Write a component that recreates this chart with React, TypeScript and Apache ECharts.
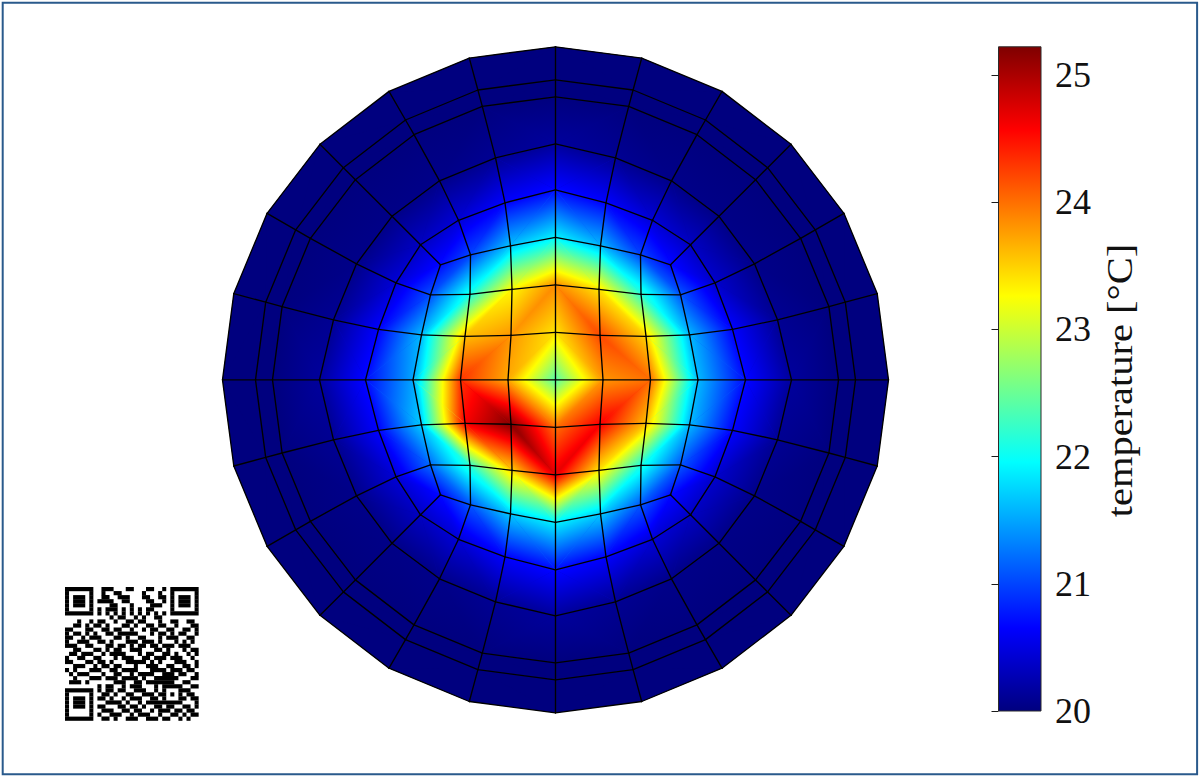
import React, { useEffect, useRef } from "react";
import * as echarts from "echarts";

// ---- mesh geometry (one octant of each ring, in plot units; R = 333) ----
const INNER_OCTANT: number[][][] = [
  [[0, 0]],
  [[47.5, 0], [44.5, 44.5]],
  [[95, 0], [90.5, 43.5], [85.5, 85.5]],
  [[142.5, 0], [134, 45], [125, 85], [115, 115]],
];
const RING1_OCTANT = [[190, 0], [177, 50.5], [159.5, 97], [135, 135]];
const RING2_OCTANT = [[236, 0], [222, 60], [199, 116], [163.5, 163.5]];
const RING3_OCTANT = [[283, 0], [273.4, 73.2], [245.1, 141.5], [200.1, 200.1]];
const RING4_OCTANT = [[300, 0], [289.8, 77.6], [259.8, 150], [212.1, 212.1]];
const RING5_OCTANT = [[333, 0], [321.7, 86.2], [288.4, 166.5], [235.5, 235.5]];

// ---- node temperatures [°C] ----
// inner 7x7 block, rows top to bottom, columns left to right
const INNER_VALUES = [
  [20.7, 21.0, 21.65, 21.9, 21.6, 21.0, 20.7],
  [21.05, 22.1, 23.3, 23.85, 23.4, 22.2, 21.1],
  [21.6, 23.6, 23.8, 23.4, 24.2, 23.5, 21.6],
  [21.5, 24.3, 23.7, 22.4, 23.8, 24.0, 21.6],
  [21.7, 24.6, 25.2, 24.0, 24.6, 23.6, 21.6],
  [21.2, 22.2, 23.5, 24.7, 23.4, 22.1, 21.1],
  [20.7, 21.1, 21.7, 21.9, 21.7, 21.1, 20.7],
];
// rings, 24 nodes each, counter-clockwise from the +x axis
const RING1_VALUES = [20.7, 20.65, 20.4, 20.35, 20.45, 20.65, 20.7, 20.65, 20.45, 20.35, 20.45, 20.65, 20.7, 20.65, 20.45, 20.35, 20.45, 20.65, 20.7, 20.65, 20.45, 20.35, 20.4, 20.65];
const RING2_VALUES = [20.15, 20.1, 20.05, 20.04, 20.05, 20.1, 20.15, 20.1, 20.05, 20.04, 20.05, 20.1, 20.15, 20.1, 20.05, 20.04, 20.05, 20.1, 20.15, 20.1, 20.05, 20.04, 20.05, 20.1];
const RING3_VALUES = [20, 20, 20, 20, 20, 20, 20, 20, 20, 20, 20, 20, 20, 20, 20, 20, 20, 20, 20, 20, 20, 20, 20, 20];
const RING4_VALUES = [20, 20, 20, 20, 20, 20, 20, 20, 20, 20, 20, 20, 20, 20, 20, 20, 20, 20, 20, 20, 20, 20, 20, 20];
const RING5_VALUES = [20, 20, 20, 20, 20, 20, 20, 20, 20, 20, 20, 20, 20, 20, 20, 20, 20, 20, 20, 20, 20, 20, 20, 20];

// ---- colour scale ----
const T_MIN = 20;
const T_MAX = 25.22;
const TICK_VALUES = [20, 21, 22, 23, 24, 25];
const JET_OFFSETS = [0, 0.125, 0.375, 0.625, 0.875, 1];
const JET_COLORS = ["#00007f", "#0000ff", "#00ffff", "#ffff00", "#ff0000", "#7f0000"];
const COLOR_STOPS = JET_OFFSETS.map((offset, i) => ({ offset, color: JET_COLORS[i] }));

const AXIS_TITLE = "temperature [°C]";

const QR_ROWS = [
  "1111111" + "0" + "01110001100011001" + "0" + "1111111",
  "1000001" + "0" + "01001100000100010" + "0" + "1000001",
  "1011101" + "0" + "01100111000110011" + "0" + "1011101",
  "1011101" + "0" + "11110011000011001" + "0" + "1011101",
  "1011101" + "0" + "00011000100001110" + "0" + "1011101",
  "1000001" + "0" + "10111010101011000" + "0" + "1000001",
  "1111111" + "0" + "10101010101010101" + "0" + "1111111",
  "00000000" + "00010110010100110" + "00000000",
  "000100101100100110110001001100110",
  "001101011010001101001101100100011",
  "110001100110110010010110011001101",
  "101101010011011111000101101011001",
  "110010111000110100110001011100110",
  "100111001101000111011101000101010",
  "111001100011011010110110111011100",
  "001100011010110011100011010001011",
  "011011100101111000101100110100101",
  "100110011000101110011011101110010",
  "110001101101000111110101000111001",
  "001110010110110001001110011001101",
  "101000111001101111000111101110110",
  "010111000100110010111100111011001",
  "001000111011101111010011111100011",
  "011101000000111001101111111001100",
  "00000000" + "1011001011100010" + "11111" + "0011",
  "1111111" + "0" + "1011011001110010" + "10001" + "1100",
  "1000001" + "0" + "0110100110011101" + "10101" + "0110",
  "1011101" + "0" + "1101001011100110" + "10001" + "1011",
  "1011101" + "0" + "0011110100101111" + "11111" + "0001",
  "1011101" + "0" + "1100011011010011" + "01100" + "1101",
  "1000001" + "0" + "0111001101100101" + "11011" + "0110",
  "1000001" + "0" + "1001110010111001" + "00110" + "1011",
  "1111111" + "0" + "0110100111001110" + "11001" + "0100",
];

type Node = { x: number; y: number; v: number };

// ---- mesh assembly ----
function innerNode(i: number, j: number): Node {
  const a = Math.abs(i);
  const b = Math.abs(j);
  const p = a >= b ? INNER_OCTANT[a][b] : [INNER_OCTANT[b][a][1], INNER_OCTANT[b][a][0]];
  return {
    x: Math.sign(i) * p[0],
    y: Math.sign(j) * p[1],
    v: INNER_VALUES[3 - j][i + 3],
  };
}
function ringPoint(octant: number[][], spoke: number): number[] {
  let a = spoke;
  let fy = 1;
  let fx = 1;
  if (a > 12) { a = 24 - a; fy = -1; }
  if (a > 6) { a = 12 - a; fx = -1; }
  const p = a > 3 ? [octant[6 - a][1], octant[6 - a][0]] : octant[a];
  return [fx * p[0], fy * p[1]];
}
function perimeterIndex(s: number): number[] {
  if (s <= 3) return [3, s];
  if (s <= 9) return [6 - s, 3];
  if (s <= 15) return [-3, 12 - s];
  if (s <= 21) return [s - 18, -3];
  return [3, s - 24];
}
const RINGS = [
  { octant: RING1_OCTANT, values: RING1_VALUES },
  { octant: RING2_OCTANT, values: RING2_VALUES },
  { octant: RING3_OCTANT, values: RING3_VALUES },
  { octant: RING4_OCTANT, values: RING4_VALUES },
  { octant: RING5_OCTANT, values: RING5_VALUES },
];
function ringNode(ring: number, spoke: number): Node {
  const s = ((spoke % 24) + 24) % 24;
  if (ring === 0) {
    const [i, j] = perimeterIndex(s);
    return innerNode(i, j);
  }
  const r = RINGS[ring - 1];
  const [x, y] = ringPoint(r.octant, s);
  return { x, y, v: r.values[s] };
}

const CELLS: Node[][] = [];
for (let i = -3; i < 3; i++) {
  for (let j = -3; j < 3; j++) {
    CELLS.push([innerNode(i, j), innerNode(i + 1, j), innerNode(i + 1, j + 1), innerNode(i, j + 1)]);
  }
}
for (let r = 0; r < 5; r++) {
  for (let s = 0; s < 24; s++) {
    CELLS.push([ringNode(r, s), ringNode(r, s + 1), ringNode(r + 1, s + 1), ringNode(r + 1, s)]);
  }
}
const EDGES: Node[][] = (() => {
  const seen = new Set<string>();
  const out: Node[][] = [];
  const key = (n: Node) => `${n.x.toFixed(2)},${n.y.toFixed(2)}`;
  CELLS.forEach((c) => {
    c.forEach((n, k) => {
      const m = c[(k + 1) % 4];
      const id = [key(n), key(m)].sort().join("|");
      if (!seen.has(id)) {
        seen.add(id);
        out.push([n, m]);
      }
    });
  });
  return out;
})();

function colorAt(v: number): string {
  const t = Math.max(0, Math.min(1, (v - T_MIN) / (T_MAX - T_MIN)));
  let k = 0;
  while (k < JET_OFFSETS.length - 2 && t > JET_OFFSETS[k + 1]) k++;
  const f = (t - JET_OFFSETS[k]) / (JET_OFFSETS[k + 1] - JET_OFFSETS[k]);
  const a = parseInt(JET_COLORS[k].slice(1), 16);
  const b = parseInt(JET_COLORS[k + 1].slice(1), 16);
  const ch = (sh: number) => Math.round(((a >> sh) & 255) * (1 - f) + ((b >> sh) & 255) * f);
  return `rgb(${ch(16)},${ch(8)},${ch(0)})`;
}

// a linear function on a triangle is exactly a linear gradient along its slope;
// the gradient spans only the triangle's own value range
function triangleFill(p: number[][], v: number[]) {
  const lo = Math.min(v[0], v[1], v[2]);
  const hi = Math.max(v[0], v[1], v[2]);
  const mean = (v[0] + v[1] + v[2]) / 3;
  if (hi - lo < 0.002) return colorAt(mean);
  const ax = p[1][0] - p[0][0];
  const ay = p[1][1] - p[0][1];
  const bx = p[2][0] - p[0][0];
  const by = p[2][1] - p[0][1];
  const det = ax * by - ay * bx;
  const du = v[1] - v[0];
  const dv = v[2] - v[0];
  if (Math.abs(det) < 1e-6) return colorAt(mean);
  const gx = (du * by - dv * ay) / det;
  const gy = (dv * ax - du * bx) / det;
  const g2 = gx * gx + gy * gy;
  const at = (t: number) => [p[0][0] + ((t - v[0]) * gx) / g2, p[0][1] + ((t - v[0]) * gy) / g2];
  const s = at(lo);
  const e = at(hi);
  const colorStops = [{ offset: 0, color: colorAt(lo) }];
  JET_OFFSETS.forEach((o, i) => {
    const tv = T_MIN + o * (T_MAX - T_MIN);
    if (tv > lo && tv < hi) colorStops.push({ offset: (tv - lo) / (hi - lo), color: JET_COLORS[i] });
  });
  colorStops.push({ offset: 1, color: colorAt(hi) });
  return { type: "linear", global: true, x: s[0], y: s[1], x2: e[0], y2: e[1], colorStops };
}

function renderCell(_: any, api: any) {
  const cell = CELLS[api.value(2)];
  const cx = (cell[0].x + cell[1].x + cell[2].x + cell[3].x) / 4;
  const cy = (cell[0].y + cell[1].y + cell[2].y + cell[3].y) / 4;
  const score = (a: Node, b: Node) => {
    const dx = b.x - a.x;
    const dy = b.y - a.y;
    return Math.abs(dx * cx + dy * cy) / Math.hypot(dx, dy);
  };
  // split along the diagonal that runs across the radial direction
  const firstDiagonal = score(cell[0], cell[2]) <= score(cell[1], cell[3]);
  const order = firstDiagonal ? [[0, 1, 2], [0, 2, 3]] : [[0, 1, 3], [1, 2, 3]];
  // flat under-layer at the diagonal's own mean, so no white shows through the anti-aliased seam
  const diag = firstDiagonal ? [cell[0], cell[2]] : [cell[1], cell[3]];
  const base = {
    type: "polygon",
    shape: { points: cell.map((n) => api.coord([n.x, n.y])) },
    style: { fill: colorAt((diag[0].v + diag[1].v) / 2) },
  };
  const children = order.map((tri) => {
    const pts = tri.map((k) => api.coord([cell[k].x, cell[k].y]));
    const fill = triangleFill(pts, tri.map((k) => cell[k].v));
    return {
      type: "polygon",
      shape: { points: pts },
      style: { fill },
    };
  });
  return { type: "group", children: [base, ...children] };
}

function renderEdge(_: any, api: any) {
  const e = EDGES[api.value(2)];
  const a = api.coord([e[0].x, e[0].y]);
  const b = api.coord([e[1].x, e[1].y]);
  return {
    type: "line",
    shape: { x1: a[0], y1: a[1], x2: b[0], y2: b[1] },
    style: { stroke: "#000", lineWidth: 1.35, lineCap: "round" },
  };
}

function renderBar(_: any, api: any) {
  const a = api.coord([0, T_MAX]);
  const b = api.coord([1, T_MIN]);
  return {
    type: "rect",
    shape: { x: a[0], y: a[1], width: b[0] - a[0], height: b[1] - a[1] },
    style: {
      fill: { type: "linear", x: 0, y: 1, x2: 0, y2: 0, colorStops: COLOR_STOPS },
      stroke: "#2b2b2b",
      lineWidth: 1,
    },
  };
}

function qrElements() {
  const size = 4.05;
  const out: any[] = [];
  QR_ROWS.forEach((row, r) => {
    let c = 0;
    while (c < row.length) {
      if (row[c] === "1") {
        let e = c;
        while (e + 1 < row.length && row[e + 1] === "1") e++;
        out.push({
          type: "rect",
          shape: { x: c * size, y: r * size, width: (e - c + 1) * size, height: size + 0.15 },
          style: { fill: "#000" },
        });
        c = e + 1;
      } else c++;
    }
  });
  return out;
}

const SERIF = '"Liberation Serif", "Times New Roman", serif';

export default function App() {
  const ref = useRef<HTMLDivElement>(null);
  useEffect(() => {
    const chart = echarts.init(ref.current!, null, { renderer: "svg" });
    chart.setOption({
      animation: false,
      backgroundColor: "#ffffff",
      grid: [
        { left: 222.5, top: 46.8, width: 666, height: 666 },
        { left: 998.5, top: 46.8, width: 42.5, height: 664.2 },
      ],
      xAxis: [
        { gridIndex: 0, type: "value", min: -333, max: 333, show: false },
        { gridIndex: 1, type: "value", min: 0, max: 1, show: false },
      ],
      yAxis: [
        { gridIndex: 0, type: "value", min: -333, max: 333, show: false },
        {
          gridIndex: 1,
          type: "value",
          min: T_MIN,
          max: T_MAX,
          position: "right",
          z: 6,
          splitLine: { show: false },
          axisLine: { show: false },
          axisTick: { show: true, inside: true, length: 7, customValues: TICK_VALUES, lineStyle: { color: "#1a1a1a", width: 1 } },
          axisLabel: {
            show: true,
            customValues: TICK_VALUES,
            margin: 14,
            color: "#111",
            fontFamily: SERIF,
            fontSize: 36,
            padding: [0, 0, 5, 0],
          },
        },
      ],
      series: [
        {
          type: "custom",
          name: "temperature",
          coordinateSystem: "cartesian2d",
          xAxisIndex: 0,
          yAxisIndex: 0,
          silent: true,
          clip: false,
          encode: { x: 0, y: 1 },
          z: 2,
          renderItem: renderCell,
          data: CELLS.map((c, i) => [(c[0].x + c[2].x) / 2, (c[0].y + c[2].y) / 2, i]),
        },
        {
          type: "custom",
          name: "mesh",
          coordinateSystem: "cartesian2d",
          xAxisIndex: 0,
          yAxisIndex: 0,
          silent: true,
          clip: false,
          encode: { x: 0, y: 1 },
          z: 3,
          renderItem: renderEdge,
          data: EDGES.map((e, i) => [(e[0].x + e[1].x) / 2, (e[0].y + e[1].y) / 2, i]),
        },
        {
          type: "custom",
          name: "colorbar",
          coordinateSystem: "cartesian2d",
          xAxisIndex: 1,
          yAxisIndex: 1,
          silent: true,
          clip: false,
          encode: { x: 0, y: 1 },
          z: 2,
          renderItem: renderBar,
          data: [[0.5, T_MIN, 0]],
        },
      ],
      graphic: [
        {
          type: "rect",
          silent: true,
          z: 10,
          shape: { x: 2.7, y: 2.7, width: 1194.4, height: 771.6 },
          style: { fill: "none", stroke: "#2a5a8c", lineWidth: 2 },
        },
        {
          type: "text",
          silent: true,
          z: 10,
          x: 1120,
          y: 380.5,
          rotation: Math.PI / 2,
          scaleX: 1.125,
          style: {
            text: AXIS_TITLE,
            font: `36px ${SERIF}`,
            fill: "#111",
            textAlign: "center",
            textVerticalAlign: "middle",
          },
        },
        {
          type: "group",
          silent: true,
          z: 10,
          x: 65,
          y: 587,
          children: qrElements(),
        },
      ],
    });
    return () => chart.dispose();
  }, []);
  return <div ref={ref} style={{ position: "absolute", left: 0, top: 0, width: 1200, height: 777 }} />;
}
